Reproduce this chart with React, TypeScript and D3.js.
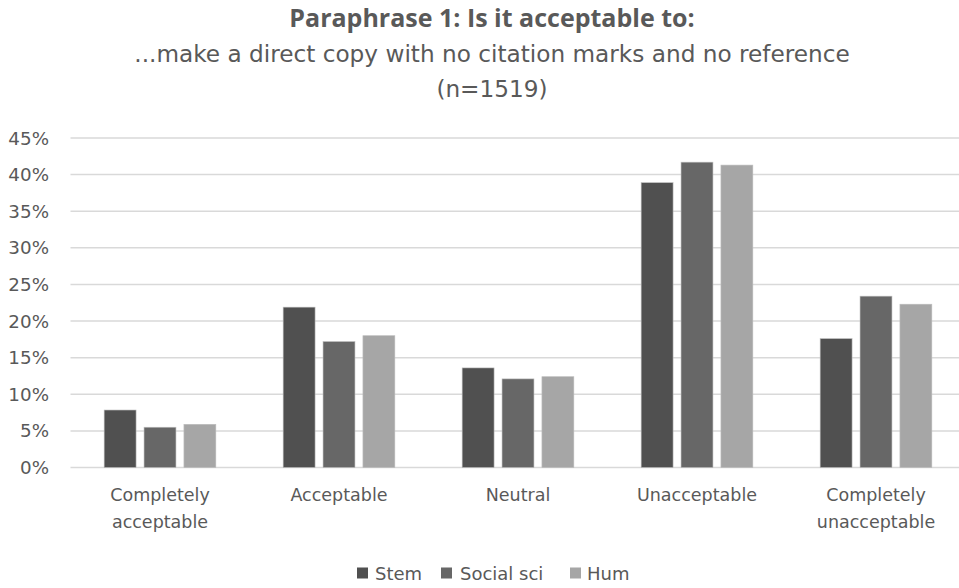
import React from "react";
import * as d3 from "d3";

const categories = [
  ["Completely", "acceptable"],
  ["Acceptable"],
  ["Neutral"],
  ["Unacceptable"],
  ["Completely", "unacceptable"],
];
const seriesNames = ["Stem", "Social sci", "Hum"];
const stem = [7.85, 21.9, 13.6, 38.9, 17.6];
const socialSci = [5.5, 17.2, 12.1, 41.7, 23.4];
const hum = [5.9, 18.0, 12.4, 41.3, 22.3];
const yTicks = [0, 5, 10, 15, 20, 25, 30, 35, 40, 45];
const colors = ["#505050", "#676767", "#a6a6a6"];

const W = 959;
const H = 588;
const FONT = "'DejaVu Sans', sans-serif";
const TFONT = "'Open Sans', 'Noto Sans', sans-serif";
const TEXT = "#595959";

export default function App() {
  const series = [stem, socialSci, hum];
  const x = d3
    .scaleBand<number>()
    .domain(d3.range(categories.length))
    .range([70.5, 965.5])
    .paddingInner(0)
    .paddingOuter(0);
  const y = d3.scaleLinear().domain([0, 45]).range([467.5, 138]);
  const inner = d3
    .scaleBand<number>()
    .domain(d3.range(series.length))
    .range([x.bandwidth() * 0.188, x.bandwidth() * 0.812])
    .paddingInner(0.2);

  const legendItems = [
    { sq: 357, tx: 375 },
    { sq: 441, tx: 460 },
    { sq: 570, tx: 587 },
  ];

  return (
    <div style={{ position: "fixed", left: 0, top: 0 }}>
      <svg width={W} height={H} style={{ display: "block", background: "#fff" }}>
        <text x={492} y={27} textAnchor="middle" fontFamily={TFONT} fontWeight={700} fontSize={25} fill={TEXT}>
          Paraphrase 1: Is it acceptable to:
        </text>
        <text x={492} y={62} textAnchor="middle" fontFamily={FONT} fontSize={23.2} fill={TEXT}>
          ...make a direct copy with no citation marks and no reference
        </text>
        <text x={492} y={97} textAnchor="middle" fontFamily={FONT} fontSize={23.2} fill={TEXT}>
          (n=1519)
        </text>
        {yTicks.map((t) => (
          <g key={t}>
            <line x1={70.5} x2={W} y1={y(t)} y2={y(t)} stroke="#d9d9d9" strokeWidth={1.5} />
            <text x={49} y={y(t) + 6.5} textAnchor="end" fontFamily={FONT} fontSize={18.3} fill={TEXT}>
              {t}%
            </text>
          </g>
        ))}
        {categories.map((c, i) => (
          <g key={i}>
            {series.map((s, j) => (
              <rect
                key={j}
                x={(x(i) as number) + (inner(j) as number)}
                width={inner.bandwidth()}
                y={y(s[i])}
                height={y(0) - y(s[i])}
                fill={colors[j]}
                stroke="#bdbdbd"
                strokeWidth={0.6}
              />
            ))}
            {c.map((line, k) => (
              <text
                key={k}
                x={(x(i) as number) + x.bandwidth() / 2}
                y={500.5 + k * 27}
                textAnchor="middle"
                fontFamily={FONT}
                fontSize={17.5}
                fill={TEXT}
              >
                {line}
              </text>
            ))}
          </g>
        ))}
        {seriesNames.map((n, j) => (
          <g key={n}>
            <rect x={legendItems[j].sq} y={567.5} width={11} height={11} fill={colors[j]} />
            <text x={legendItems[j].tx} y={580} fontFamily={FONT} fontSize={18} fill={TEXT}>
              {n}
            </text>
          </g>
        ))}
      </svg>
    </div>
  );
}
